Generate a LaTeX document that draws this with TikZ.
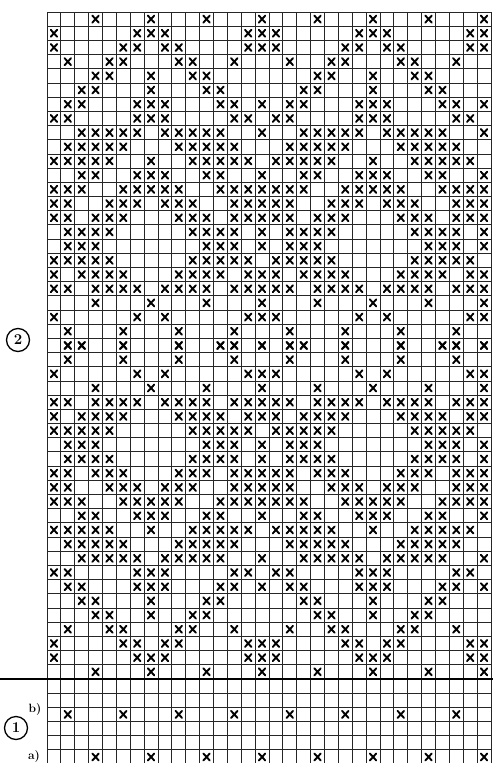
\documentclass[tikz,border=0pt]{standalone}
\begin{document}
\begin{tikzpicture}[x=1pt,y=-1pt,
  gridline/.style={line width=0.8pt,draw=black!85},
  thickline/.style={line width=2.4pt,draw=black},
  xmark/.style={line width=1.9pt,draw=black,line cap=round},
  numcircle/.style={circle,draw=black,line width=1.3pt,minimum size=23pt,inner sep=0pt,font=\bfseries\fontsize{15}{15}\selectfont},
  sublabel/.style={font=\bfseries\fontsize{12}{12}\selectfont,inner sep=0pt}]
\useasboundingbox[fill=white] (0,0) rectangle (493,763);
\def\gx{47}\def\gw{13.875}\def\gy{12}\def\gh{14.19}
\newcommand\putx[2]{%
  \pgfmathsetmacro\cx{\gx+(#1+0.5)*\gw}%
  \pgfmathsetmacro\cy{\gy+(#2-0.5)*\gh}%
  \draw[xmark] (\cx-3.2,\cy-3.5) -- (\cx+3.2,\cy+3.5) (\cx-3.2,\cy+3.5) -- (\cx+3.2,\cy-3.5);%
}
% grid
\foreach \k in {0,...,32}{
  \pgfmathsetmacro\xx{\gx+\k*\gw}
  \draw[gridline] (\xx,\gy) -- (\xx,764);
}
\foreach \j in {0,...,53}{
  \pgfmathsetmacro\yy{\gy+\j*\gh}
  \draw[gridline] (\gx,\yy) -- (491,\yy);
}
\pgfmathsetmacro\yt{\gy+47*\gh}
\draw[thickline] (0,\yt) -- (493,\yt);
% pattern (period 16, symmetric about row 24)
\foreach \r/\cl in {
 1/{3,7,11,15},
 2/{0,6,7,8,14,15},
 3/{0,5,6,8,9,14,15},
 4/{1,4,5,9,10,13},
 5/{3,4,7,10,11},
 6/{2,3,7,11,12},
 7/{1,2,6,7,8,12,13,15},
 8/{0,1,6,7,8,13,14},
 9/{2,3,4,5,6,8,9,10,11,12,15},
 10/{1,2,3,4,5,9,10,11,12,13},
 11/{0,1,2,3,4,7,10,11,12,13,14},
 12/{2,3,6,7,8,11,12,15},
 13/{0,1,2,5,6,7,8,9,12,13,14,15},
 14/{0,1,4,5,6,8,9,10,13,14,15},
 15/{0,1,3,4,5,9,10,11,13,14,15},
 16/{1,2,3,4,10,11,12,13,15},
 17/{1,2,3,11,12,13,15},
 18/{0,1,2,3,4,10,11,12,13,14},
 19/{0,2,3,4,5,9,10,11,12,14,15},
 20/{0,1,3,4,5,6,8,9,10,11,13,14,15},
 21/{3,7,11,15},
 22/{0,6,8,14,15},
 23/{1,5,9,13},
 24/{1,2,5,9,12,13,15}}{
  \foreach \c in \cl {
    \foreach \h in {0,16}{
      \pgfmathtruncatemacro\cc{\c+\h}
      \pgfmathtruncatemacro\rr{48-\r}
      \putx{\cc}{\r}
      \putx{\cc}{\rr}
    }
  }
}
% lower section
\foreach \c in {1,5,...,29} {\putx{\c}{50}}
\foreach \c in {3,7,...,31} {\putx{\c}{53}}
% labels
\node[numcircle] (two) at (18,340) {2};
\node[numcircle] (one) at (16,728) {1};
\node[sublabel] (lb) at (35,709) {b)};
\node[sublabel] (la) at (34,756) {a)};
\end{tikzpicture}
\end{document}
